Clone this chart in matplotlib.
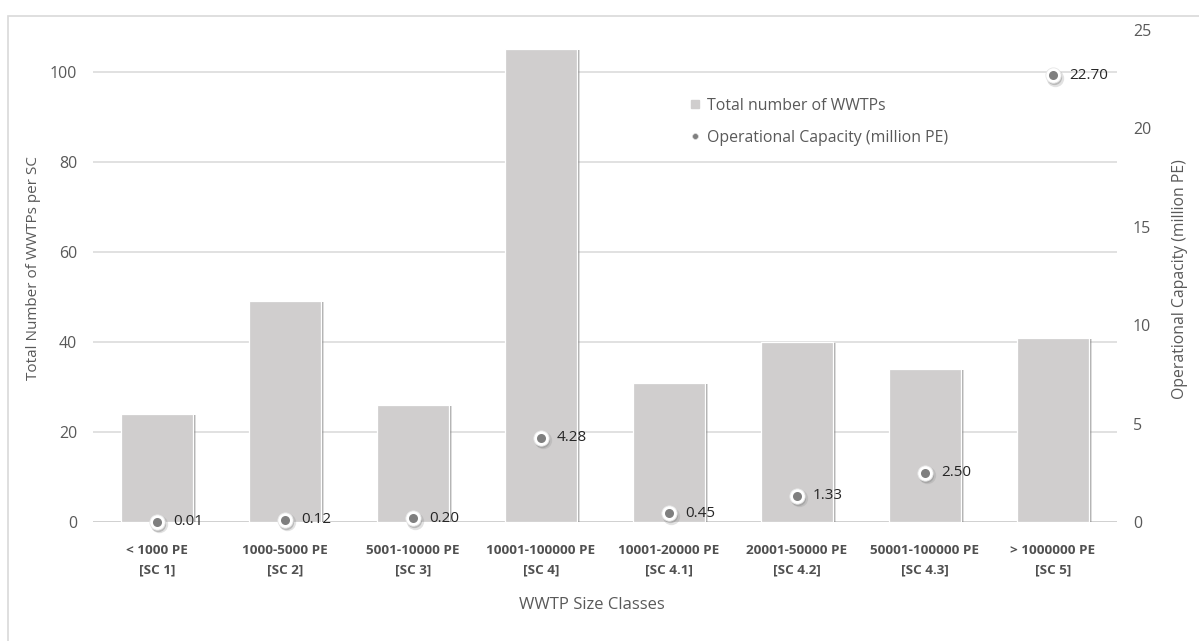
import matplotlib
matplotlib.use("Agg")
import matplotlib.pyplot as plt
import matplotlib.transforms as mtransforms
from matplotlib.patches import Rectangle
from matplotlib.lines import Line2D

# ---- data ----
size_classes = ["< 1000 PE", "1000-5000 PE", "5001-10000 PE", "10001-100000 PE",
                "10001-20000 PE", "20001-50000 PE", "50001-100000 PE", "> 1000000 PE"]
class_codes = ["[SC 1]", "[SC 2]", "[SC 3]", "[SC 4]",
               "[SC 4.1]", "[SC 4.2]", "[SC 4.3]", "[SC 5]"]
wwtp_counts = [24, 49, 26, 105, 31, 40, 34, 41]
capacity_mpe = [0.01, 0.12, 0.20, 4.28, 0.45, 1.33, 2.50, 22.70]
left_ticks = [0, 20, 40, 60, 80, 100]
right_ticks = [0, 5, 10, 15, 20, 25]

# ---- style ----
W, H = 1199, 641
FONT = "Open Sans"
TXT = "#595959"
GRID = "#D9D9D9"
BAR = "#D0CECE"
DOT = "#7F7F7F"
plt.rcParams["font.family"] = [FONT, "DejaVu Sans"]

fig = plt.figure(figsize=(W / 100, H / 100), dpi=100)
fig.patch.set_facecolor("white")

# chart frame
fig.patches.append(Rectangle((8 / W, -0.2), 2.0, 1 - 16 / H + 0.2,
                             transform=fig.transFigure, fill=False,
                             edgecolor=GRID, linewidth=1.2, zorder=0))

ax_l, ax_r, ax_b, ax_t = 93, 1117, 522, 30
ax = fig.add_axes([ax_l / W, 1 - ax_b / H, (ax_r - ax_l) / W, (ax_b - ax_t) / H])
ax2 = ax.twinx()

x = list(range(len(size_classes)))
ax.set_xlim(-0.5, len(x) - 0.5)
ax.set_ylim(0, 492 / 4.5)
ax2.set_ylim(0, 25)

# bars with a soft drop shadow on the right
def px(dx, dy):
    return mtransforms.ScaledTranslation(dx / 100, dy / 100, fig.dpi_scale_trans)

for (dx, a) in [(3.5, 0.25), (2.5, 0.5)]:
    sh = ax.bar(x, wwtp_counts, width=0.56, color="#7A7A7A", alpha=a, zorder=2,
                linewidth=0)
    for p in sh:
        p.set_transform(ax.transData + px(dx, -1.0))
ax.bar(x, wwtp_counts, width=0.56, color=BAR, edgecolor="white", linewidth=0.9,
       zorder=3)

# gridlines and axis line
for t in left_ticks:
    ax.axhline(t, color=GRID if t else "#D0D0D0", linewidth=1.1 if t else 1.4,
               zorder=1)

for s in ax.spines.values():
    s.set_visible(False)
for s in ax2.spines.values():
    s.set_visible(False)

ax.set_yticks(left_ticks)
ax.set_yticklabels([str(t) for t in left_ticks], color=TXT, fontsize=11.5)
ax.tick_params(axis="y", length=0, pad=11.5)
ax2.set_yticks(right_ticks)
ax2.set_yticklabels([str(t) for t in right_ticks], color=TXT, fontsize=11.5)
ax2.tick_params(axis="y", length=0, pad=11.5)

ax.set_xticks(x)
ax.set_xticklabels([f"{a}\n{b}" for a, b in zip(size_classes, class_codes)],
                   color="#505050", fontsize=9.7, fontweight="bold", linespacing=1.65)
ax.tick_params(axis="x", length=0, pad=16)

# capacity markers: shadow, white ring, grey core
ax2.plot(x, capacity_mpe, linestyle="none", marker="o", markersize=12.5,
         color="#8C8C8C", alpha=0.25, markeredgewidth=0, zorder=4,
         transform=ax2.transData + px(1.5, -2.5), clip_on=False)
ax2.plot(x, capacity_mpe, linestyle="none", marker="o", markersize=11,
         color="#8C8C8C", alpha=0.45, markeredgewidth=0, zorder=4,
         transform=ax2.transData + px(1.0, -2.0), clip_on=False)
ax2.plot(x, capacity_mpe, linestyle="none", marker="o", markersize=11,
         markerfacecolor="white", markeredgecolor="#E6E6E6", markeredgewidth=0.6,
         zorder=5, clip_on=False)
ax2.plot(x, capacity_mpe, linestyle="none", marker="o", markersize=6.5,
         color=DOT, markeredgewidth=0, zorder=6, clip_on=False)
for xi, v in zip(x, capacity_mpe):
    ax2.annotate(f"{v:.2f}", (xi, v), xytext=(11.5, 0), textcoords="offset points",
                 va="center", ha="left", fontsize=11, color="#262626", zorder=7)

# axis titles
fig.text(34 / W, 1 - 268 / H, "Total Number of WWTPs per SC", rotation=90,
         ha="center", va="center", color=TXT, fontsize=11)
fig.text(1180 / W, 1 - 279 / H, "Operational Capacity (million PE)", rotation=90,
         ha="center", va="center", color=TXT, fontsize=11.3)
fig.text(592 / W, 1 - 605 / H, "WWTP Size Classes", ha="center", va="center",
         color=TXT, fontsize=12)

# legend
handles = [
    Line2D([], [], linestyle="none", marker="s", markersize=5.5, color=BAR),
    Line2D([], [], linestyle="none", marker="o", markersize=4.2, color=DOT,
           markeredgecolor="#D9D9D9", markeredgewidth=0.5),
]
fig.legend(handles, ["Total number of WWTPs", "Operational Capacity (million PE)"],
           loc="upper left", bbox_to_anchor=(681 / W, 1 - 90 / H), frameon=False,
           fontsize=11.4, labelcolor=TXT, handlelength=0.8, handletextpad=0.35,
           labelspacing=1.0, borderpad=0)

fig.savefig("out.png", dpi=100, facecolor="white")
